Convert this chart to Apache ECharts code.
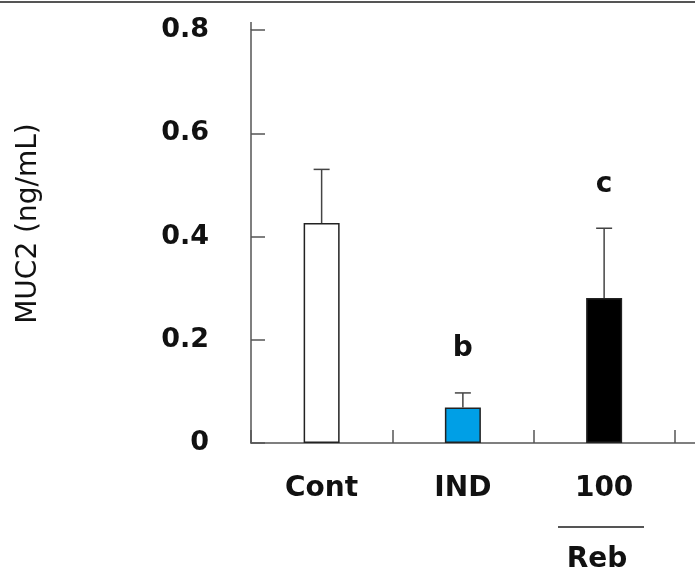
<!DOCTYPE html>
<html>
<head>
<meta charset="utf-8">
<script src="https://cdn.jsdelivr.net/npm/echarts@6/dist/echarts.min.js"></script>
<style>
  html, body { margin: 0; padding: 0; background: #fff; }
  #chart { width: 695px; height: 575px; }
</style>
</head>
<body>
<div id="chart"></div>
<script>
// 数据
var categories = ["Cont", "IND", "100", ""];
var means = [0.426, 0.069, 0.281];
var errors = [0.104, 0.028, 0.135];
var letters = ["", "b", "c"];
var barColors = ["#ffffff", "#009fe6", "#000000"];
var yTicks = { min: 0, max: 0.8, interval: 0.2 };

var myChart = echarts.init(document.getElementById("chart"));

var font = "DejaVu Sans";

myChart.setOption({
  animation: false,
  grid: {
    left: 251,
    top: 30,
    height: 413,
    width: 565,
    containLabel: false,
    outerBoundsMode: "none",
  },
  xAxis: {
    type: "category",
    data: categories,
    boundaryGap: true,
    axisLine: { lineStyle: { color: "#555", width: 1.5 } },
    axisTick: { show: true, inside: true, length: 13, lineStyle: { color: "#555", width: 1.5 } },
    axisLabel: {
      margin: 32,
      fontSize: 28,
      fontWeight: "bold",
      fontFamily: font,
      color: "#111",
    },
  },
  yAxis: {
    type: "value",
    min: yTicks.min,
    max: yTicks.max,
    interval: yTicks.interval,
    name: "MUC2 (ng/mL)",
    nameLocation: "middle",
    nameGap: 208,
    nameTextStyle: { fontSize: 28, fontFamily: font, color: "#111", padding: [0, 0, 0, 26] },
    axisLine: { show: true, lineStyle: { color: "#555", width: 1.5 } },
    axisTick: { show: true, inside: true, length: 14, lineStyle: { color: "#555", width: 1.5 } },
    splitLine: { show: false },
    axisLabel: {
      margin: 42,
      fontSize: 27,
      fontWeight: "bold",
      fontFamily: font,
      color: "#111",
      formatter: function (v) {
        return v === 0 ? "0" : v.toFixed(1);
      },
    },
  },
  series: [
    {
      type: "bar",
      barWidth: 36,
      data: means.map(function (v, i) {
        return {
          value: v,
          itemStyle: { color: barColors[i], borderColor: "#222", borderWidth: 1.5 },
        };
      }),
    },
    {
      // 误差线 + 显著性字母
      type: "custom",
      data: means.map(function (v, i) {
        return [i, v, errors[i]];
      }),
      renderItem: function (params, api) {
        var i = api.value(0);
        var base = api.coord([i, api.value(1)]);
        var top = api.coord([i, api.value(1) + api.value(2)]);
        var style = { stroke: "#444", lineWidth: 1.5 };
        var children = [
          { type: "line", shape: { x1: base[0], y1: base[1], x2: top[0], y2: top[1] }, style: style },
          { type: "line", shape: { x1: top[0] - 8, y1: top[1], x2: top[0] + 8, y2: top[1] }, style: style },
        ];
        if (letters[i]) {
          children.push({
            type: "text",
            x: top[0],
            y: top[1] - 44,
            style: {
              text: letters[i],
              fill: "#111",
              font: "bold 28px " + font,
              align: "center",
              verticalAlign: "middle",
            },
          });
        }
        return { type: "group", children: children };
      },
      z: 3,
    },
  ],
  graphic: [
    // 顶部边框线
    { type: "line", shape: { x1: 0, y1: 2, x2: 695, y2: 2 }, style: { stroke: "#555", lineWidth: 2 } },
    // y轴上端延伸
    { type: "line", shape: { x1: 251, y1: 22, x2: 251, y2: 30 }, style: { stroke: "#555", lineWidth: 1.5 } },
    // Reb 分组
    { type: "line", shape: { x1: 558, y1: 527, x2: 644, y2: 527 }, style: { stroke: "#555", lineWidth: 2 } },
    {
      type: "text",
      x: 597,
      y: 560,
      style: {
        text: "Reb",
        fill: "#111",
        font: "bold 28px " + font,
        align: "center",
        verticalAlign: "middle",
      },
    },
  ],
});

window.addEventListener("resize", function () {
  myChart.resize();
});
</script>
</body>
</html>
